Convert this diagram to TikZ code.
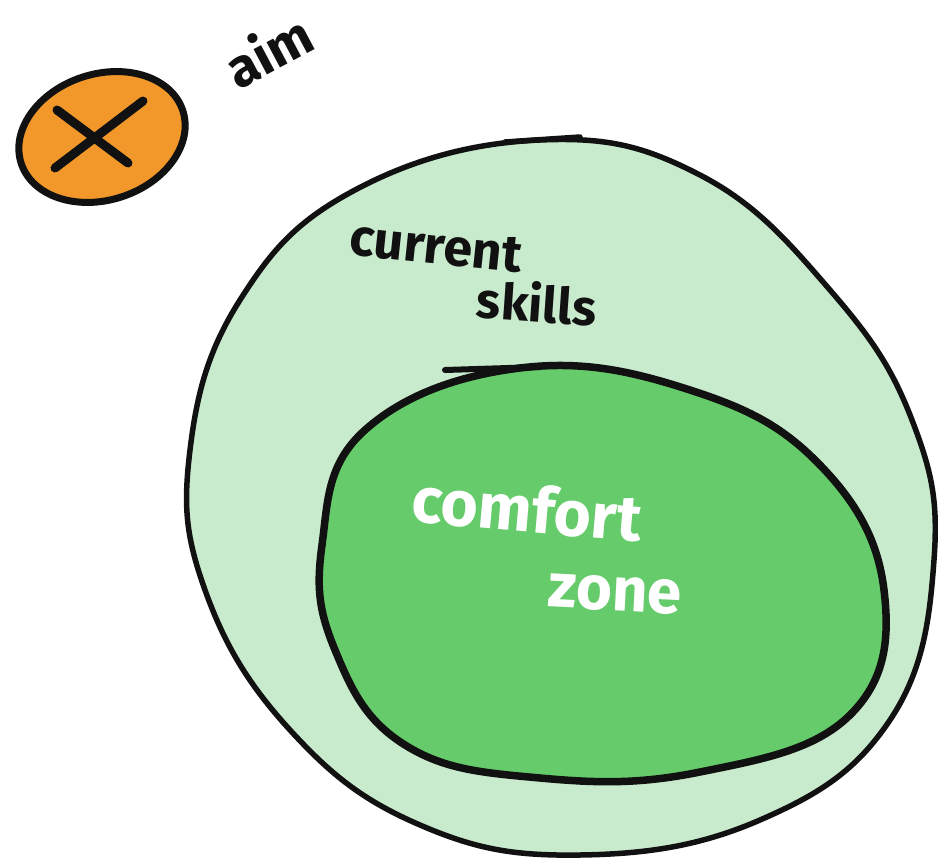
\documentclass[tikz,border=0pt]{standalone}
\usepackage{fontspec}
\setmainfont{Fira Sans}
\definecolor{outerfill}{HTML}{C9EBCD}
\definecolor{innerfill}{HTML}{66CC6B}
\definecolor{aimfill}{HTML}{F2982A}
\definecolor{ink}{HTML}{111111}
\tikzset{
  blobline/.style={draw=ink, line width=#1, line join=round, line cap=round},
  hand/.style={font=\fontsize{#1}{#1}\selectfont\bfseries, text=ink, inner sep=0pt},
  handwhite/.style={font=\fontsize{#1}{#1}\selectfont\bfseries, text=white, inner sep=0pt},
}
\begin{document}
\begin{tikzpicture}[x=1pt,y=-1pt]
\useasboundingbox[fill=white] (0,0) rectangle (938,863);
% outer blob: current skills
\filldraw[fill=outerfill, blobline=5.5pt] plot[smooth cycle, tension=0.7] coordinates {
 (540,140) (700,175) (830,290) (912,420) (934,560) (890,720) (760,820) (580,855)
 (420,825) (290,730) (205,590) (190,450) (240,300) (355,190)};
\draw[blobline=5.5pt] (505,142) -- (580,137);
% inner blob: comfort zone
\filldraw[fill=innerfill, blobline=7.5pt] plot[smooth cycle, tension=0.7] coordinates {
 (520,368) (690,390) (820,465) (884,590) (850,715) (700,772) (540,778)
 (405,745) (335,650) (322,545) (365,430)};
\draw[blobline=6pt] (445,370) -- (540,367);
% aim marker
\filldraw[fill=aimfill, blobline=7pt, rotate around={18:(102,137)}] (102,137) ellipse[x radius=85, y radius=63];
\draw[blobline=9pt] (57,110) -- (128,163);
\draw[blobline=9pt] (55,168) -- (143,101);
\node (aimmark) at (102,137) {};
% labels
\node[hand=54, rotate=28] (aim) at (268,50) {aim};
\node[hand=52, rotate=-6] (current) at (436,247) {current};
\node[hand=50, rotate=-4] (skills) at (537,302) {skills};
\node[handwhite=64, rotate=-5] (comfort) at (527,508) {comfort};
\node[handwhite=62, rotate=-3] (zone) at (615,594) {zone};
\end{tikzpicture}
\end{document}
